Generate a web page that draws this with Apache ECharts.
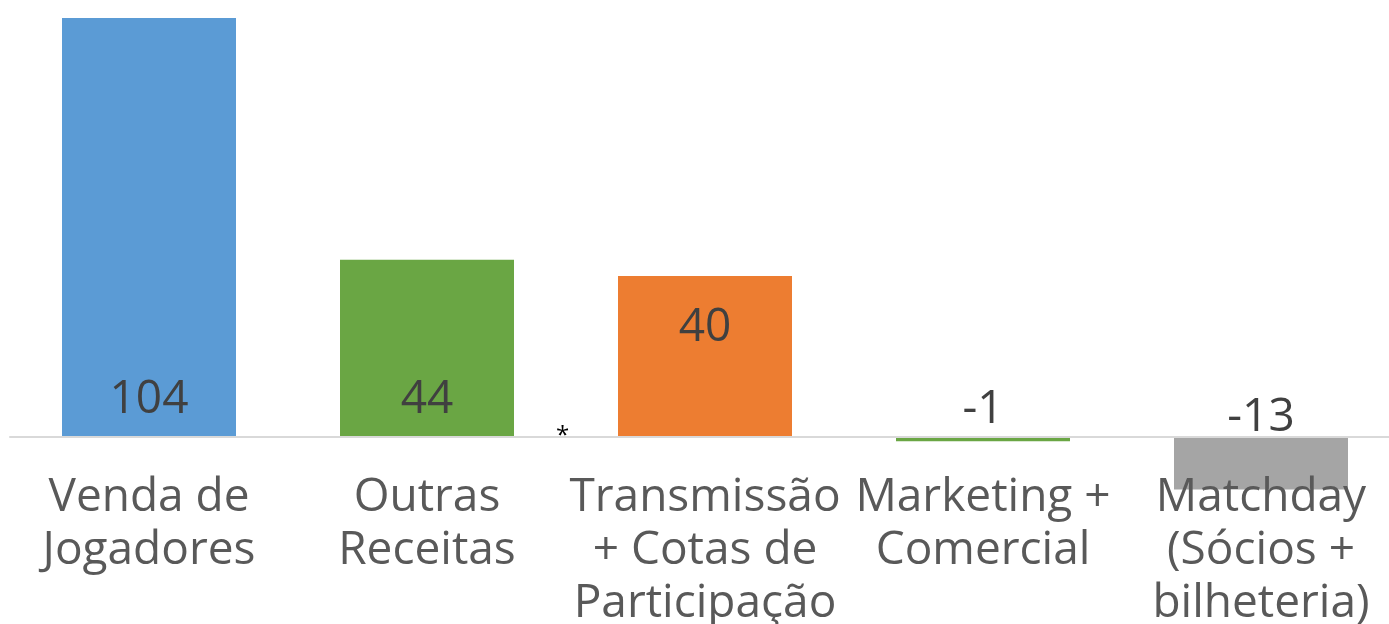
<!DOCTYPE html>
<html>
<head>
<meta charset="utf-8">
<script src="https://cdn.jsdelivr.net/npm/echarts@6/dist/echarts.min.js"></script>
<style>
  html, body { margin: 0; padding: 0; background: #fff; }
  #chart { width: 1389px; height: 624px; }
</style>
</head>
<body>
<div id="chart"></div>
<script>
// categorias e valores (R$ milhões)
var categories = [
  'Venda de\nJogadores',
  'Outras\nReceitas',
  'Transmissão\n+ Cotas de\nParticipação',
  'Marketing +\nComercial',
  'Matchday\n(Sócios +\nbilheteria)'
]
var values = [104, 44, 40, -1, -13]
var barColors = ['#5B9BD5', '#6AA644', '#ED7D31', '#6AA644', '#A5A5A5']
// onde fica o rótulo de cada barra
var labelPositions = ['insideBottom', 'insideBottom', 'insideTop', 'top', 'top']
var labelDistances = [14, 14, 29, 4, -4]

var chart = echarts.init(document.getElementById('chart'))

var data = values.map(function (v, i) {
  return {
    value: v,
    itemStyle: { color: barColors[i] },
    label: { position: labelPositions[i], distance: labelDistances[i] }
  }
})

var option = {
  animation: false,
  textStyle: { fontFamily: 'Open Sans' },
  grid: { left: 10, top: 18, width: 1390, height: 540, outerBoundsMode: 'none', containLabel: false },
  xAxis: {
    type: 'category',
    data: categories,
    z: 5,
    axisLine: { onZero: true, lineStyle: { color: '#D9D9D9', width: 2 } },
    axisTick: { show: false },
    axisLabel: {
      interval: 0,
      margin: -87, // os rótulos ficam logo abaixo da linha do zero
      fontSize: 46,
      lineHeight: 53,
      color: '#595959',
      fontFamily: 'Open Sans'
    }
  },
  yAxis: {
    type: 'value',
    min: -30,
    max: 104,
    show: false,
    splitLine: { show: false }
  },
  series: [{
    type: 'bar',
    data: data,
    barWidth: 174,
    label: {
      show: true,
      fontSize: 46,
      color: '#404040',
      fontFamily: 'Open Sans'
    }
  }],
  graphic: [{
    type: 'text',
    z: 10,
    left: 556,
    top: 424,
    style: { text: '*', fontSize: 24, fill: '#000', fontFamily: 'Open Sans' }
  }]
}
chart.setOption(option)
</script>
</body>
</html>
